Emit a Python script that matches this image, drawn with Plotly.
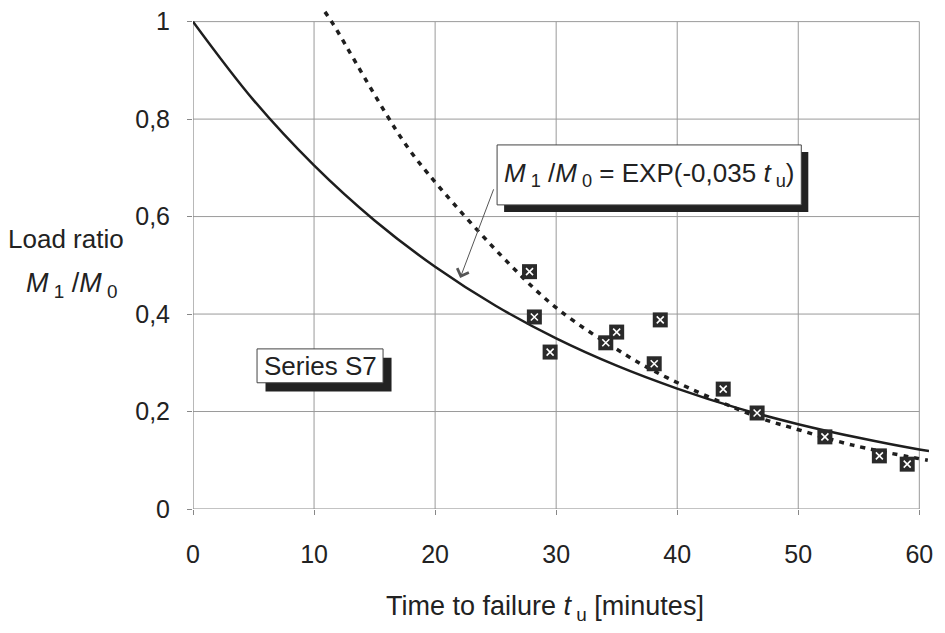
import plotly.graph_objects as go

# ---- data ----
t_obs = [27.8, 28.2, 29.5, 34.1, 35.0, 38.1, 38.6, 43.8, 46.6, 52.2, 56.7, 59.0]
ratio_obs = [0.487, 0.394, 0.322, 0.341, 0.363, 0.298, 0.388, 0.246, 0.197, 0.148, 0.109, 0.092]

# solid curve: M1/M0 = EXP(-0,035 tu)
t_model = [0, 5, 10, 15, 20, 25, 30, 35, 40, 45, 50, 55, 60, 60.8]
ratio_model = [1.0, 0.839, 0.705, 0.592, 0.497, 0.417, 0.350, 0.294, 0.247, 0.207, 0.174, 0.146, 0.122, 0.119]

# dotted curve
t_fit = [10.9, 11.5, 17.4, 20.2, 26.2, 30.2, 35.9, 39.2, 46.6, 49.3, 54.5, 60.7]
ratio_fit = [1.02, 0.998, 0.754, 0.665, 0.501, 0.409, 0.314, 0.269, 0.189, 0.168, 0.131, 0.10]

x_ticks = [0, 10, 20, 30, 40, 50, 60]
x_tick_text = ["0", "10", "20", "30", "40", "50", "60"]
y_ticks = [0, 0.2, 0.4, 0.6, 0.8, 1.0]
y_tick_text = ["0", "0,2", "0,4", "0,6", "0,8", "1"]

FONT = "Liberation Sans, Arial, sans-serif"
TXT = "#222222"
GRID = "#9a9a9a"

fig = go.Figure()

fig.add_trace(go.Scatter(x=t_model, y=ratio_model, mode="lines",
                         line=dict(color="#1e1e1e", width=2.5, shape="spline"),
                         showlegend=False, hoverinfo="skip"))
fig.add_trace(go.Scatter(x=t_fit, y=ratio_fit, mode="lines",
                         line=dict(color="#1e1e1e", width=3.5, dash="5px,6px", shape="spline"),
                         showlegend=False, hoverinfo="skip"))
fig.add_trace(go.Scatter(x=t_obs, y=ratio_obs, mode="markers",
                         marker=dict(symbol="square", size=15, color="#2a2a2a",
                                     line=dict(color="#2a2a2a", width=0)),
                         showlegend=False))
fig.add_trace(go.Scatter(x=t_obs, y=ratio_obs, mode="markers",
                         marker=dict(symbol="x-thin", size=7,
                                     line=dict(color="white", width=1.6)),
                         showlegend=False, hoverinfo="skip"))

shapes = []
# gridlines
for xv in x_ticks[1:]:
    shapes.append(dict(type="line", xref="x", yref="y", x0=xv, x1=xv, y0=0, y1=1,
                       line=dict(color=GRID, width=1), layer="below"))
for yv in y_ticks[1:]:
    shapes.append(dict(type="line", xref="x", yref="y", x0=0, x1=60, y0=yv, y1=yv,
                       line=dict(color=GRID, width=1), layer="below"))
# axis lines
shapes.append(dict(type="line", xref="x", yref="y", x0=0, x1=0, y0=0, y1=1,
                   line=dict(color="#888888", width=1.2), layer="below"))
shapes.append(dict(type="line", xref="x", yref="y", x0=0, x1=60, y0=0, y1=0,
                   line=dict(color="#888888", width=1.2), layer="below"))

# equation box with shadow
bx0, bx1, by0, by1 = 25.12, 50.25, 0.624, 0.747
shapes.append(dict(type="rect", xref="x", yref="y", x0=bx0 + 0.58, x1=bx1 + 0.58,
                   y0=by0 - 0.0144, y1=by1 - 0.0144, fillcolor="#222222",
                   line=dict(width=0), layer="above"))
shapes.append(dict(type="rect", xref="x", yref="y", x0=bx0, x1=bx1, y0=by0, y1=by1,
                   fillcolor="white", line=dict(color="#444444", width=1), layer="above"))
# series box with shadow
sx0, sx1, sy0, sy1 = 5.29, 15.70, 0.259, 0.3285
shapes.append(dict(type="rect", xref="x", yref="y", x0=sx0 + 0.7, x1=sx1 + 0.7,
                   y0=sy0 - 0.018, y1=sy1 - 0.018, fillcolor="#222222",
                   line=dict(width=0), layer="above"))
shapes.append(dict(type="rect", xref="x", yref="y", x0=sx0, x1=sx1, y0=sy0, y1=sy1,
                   fillcolor="white", line=dict(color="#444444", width=1), layer="above"))

annotations = [
    dict(x=(bx0 + bx1) / 2, y=(by0 + by1) / 2, xref="x", yref="y", showarrow=False,
         xanchor="center", yanchor="middle",
         text="<i>M</i><sub> 1</sub> /<i>M</i><sub> 0</sub> = EXP(-0,035 <i>t</i><sub> u</sub>)",
         font=dict(family=FONT, size=26, color=TXT)),
    dict(x=(sx0 + sx1) / 2, y=(sy0 + sy1) / 2, xref="x", yref="y", showarrow=False,
         xanchor="center", yanchor="middle",
         text="Series S7", font=dict(family=FONT, size=26, color=TXT)),
    dict(x=22.07, y=0.474, ax=24.88, ay=0.659, xref="x", yref="y", axref="x", ayref="y",
         text="", showarrow=True, arrowhead=4, arrowsize=2.4, arrowwidth=1,
         arrowcolor="#555555"),
    dict(x=0.478, y=-0.197, xref="paper", yref="paper", showarrow=False,
         xanchor="center", yanchor="middle",
         text="Time to failure <i>t</i><sub> u</sub> [minutes]",
         font=dict(family=FONT, size=27, color=TXT)),
    dict(x=-0.1726, y=0.537, xref="paper", yref="paper", showarrow=False,
         xanchor="center", yanchor="middle",
         text="Load ratio", font=dict(family=FONT, size=26, color=TXT)),
    dict(x=-0.164, y=0.446, xref="paper", yref="paper", showarrow=False,
         xanchor="center", yanchor="middle",
         text="<i>M</i><sub> 1</sub> /<i>M</i><sub> 0</sub>",
         font=dict(family=FONT, size=27, color=TXT)),
]

fig.update_layout(
    width=945, height=633,
    margin=dict(l=193, r=16, t=7, b=124),
    paper_bgcolor="white", plot_bgcolor="white",
    shapes=shapes, annotations=annotations,
    font=dict(family=FONT, color=TXT),
    xaxis=dict(range=[0, 60.8], tickvals=x_ticks, ticktext=x_tick_text,
               showgrid=False, zeroline=False, showline=False,
               ticks="outside", ticklen=5, tickcolor="#888888",
               ticklabelstandoff=18,
               tickfont=dict(family=FONT, size=25, color=TXT)),
    yaxis=dict(range=[0, 1.03], tickvals=y_ticks, ticktext=y_tick_text,
               showgrid=False, zeroline=False, showline=False,
               ticks="outside", ticklen=5, tickcolor="#888888",
               ticklabelstandoff=12,
               tickfont=dict(family=FONT, size=25, color=TXT)),
)

fig.write_html("out.html")
